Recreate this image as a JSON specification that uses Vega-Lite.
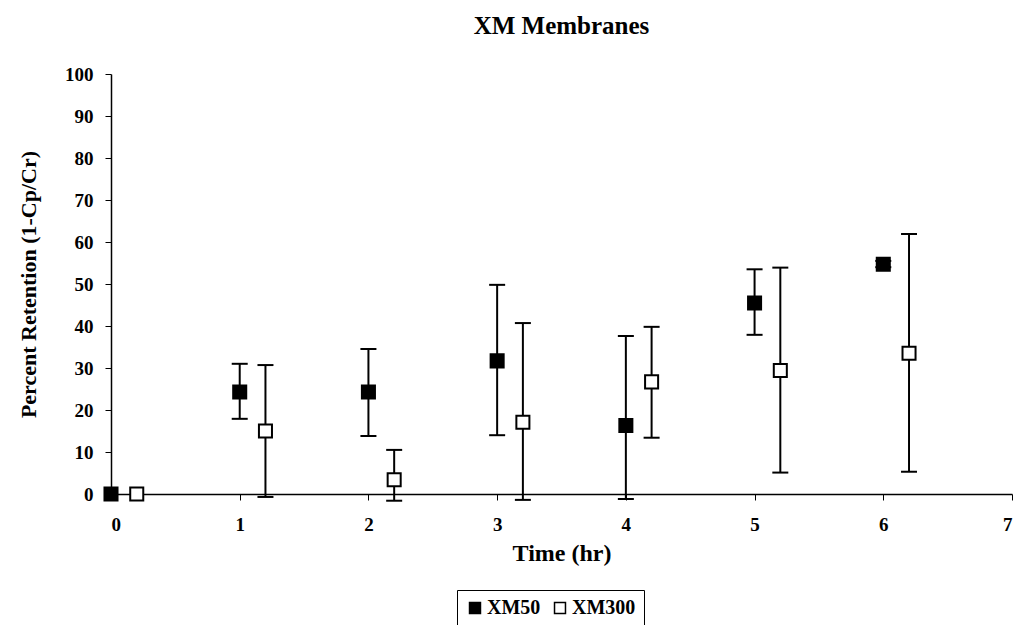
{
  "$schema": "https://vega.github.io/schema/vega-lite/v6.json",
  "width": 901,
  "height": 420,
  "autosize": {"type": "none"},
  "padding": {"left": 111, "top": 74, "right": 8, "bottom": 131},
  "background": "white",
  "title": {"text": "XM Membranes", "font": "Liberation Serif", "fontSize": 25, "fontWeight": "bold", "color": "black", "anchor": "middle", "offset": 26},
  "data": {"values": [
    {"series": "XM50", "t": 0, "v": 0, "lo": null, "hi": null},
    {"series": "XM50", "t": 1, "v": 24.3, "lo": 17.9, "hi": 31},
    {"series": "XM50", "t": 2, "v": 24.3, "lo": 13.8, "hi": 34.5},
    {"series": "XM50", "t": 3, "v": 31.7, "lo": 14, "hi": 49.8},
    {"series": "XM50", "t": 4, "v": 16.3, "lo": -1.2, "hi": 37.6},
    {"series": "XM50", "t": 5, "v": 45.5, "lo": 37.9, "hi": 53.5},
    {"series": "XM50", "t": 6, "v": 54.7, "lo": 54, "hi": 55.5},
    {"series": "XM300", "t": 0.2, "v": 0, "lo": null, "hi": null},
    {"series": "XM300", "t": 1.2, "v": 15, "lo": -0.7, "hi": 30.7},
    {"series": "XM300", "t": 2.2, "v": 3.4, "lo": -1.6, "hi": 10.5},
    {"series": "XM300", "t": 3.2, "v": 17.1, "lo": -1.4, "hi": 40.7},
    {"series": "XM300", "t": 4.2, "v": 26.7, "lo": 13.4, "hi": 39.8},
    {"series": "XM300", "t": 5.2, "v": 29.4, "lo": 5.1, "hi": 53.9},
    {"series": "XM300", "t": 6.2, "v": 33.5, "lo": 5.3, "hi": 61.9}
  ]},
  "encoding": {
    "x": {"field": "t", "type": "quantitative", "scale": {"domain": [0, 7], "nice": false, "zero": false},
      "axis": {"title": "Time (hr)", "values": [0, 1, 2, 3, 4, 5, 6, 7], "format": "d"}}
  },
  "layer": [
    {"mark": {"type": "rule", "color": "black", "strokeWidth": 2},
     "encoding": {
       "y": {"field": "lo", "type": "quantitative", "title": "Percent Retention (1-Cp/Cr)", "scale": {"domain": [0, 100], "nice": false, "zero": false},
         "axis": {"values": [0, 10, 20, 30, 40, 50, 60, 70, 80, 90, 100]}},
       "y2": {"field": "hi"}
     }},
    {"mark": {"type": "tick", "orient": "horizontal", "color": "black", "thickness": 2, "size": 16, "opacity": 1},
     "encoding": {"y": {"field": "hi", "type": "quantitative", "title": "Percent Retention (1-Cp/Cr)"}}},
    {"mark": {"type": "tick", "orient": "horizontal", "color": "black", "thickness": 2, "size": 16, "opacity": 1},
     "encoding": {"y": {"field": "lo", "type": "quantitative", "title": "Percent Retention (1-Cp/Cr)"}}},
    {"mark": {"type": "point", "shape": "square", "filled": true, "size": 170, "stroke": "black", "strokeWidth": 2, "opacity": 1},
     "encoding": {
       "y": {"field": "v", "type": "quantitative", "title": "Percent Retention (1-Cp/Cr)"},
       "fill": {"field": "series", "type": "nominal", "scale": {"domain": ["XM50", "XM300"], "range": ["black", "white"]},
         "legend": {"title": null, "orient": "none", "legendX": 346, "legendY": 516, "direction": "horizontal",
           "strokeColor": "black", "padding": 8, "symbolType": "square", "symbolSize": 120, "symbolStrokeColor": "black", "symbolStrokeWidth": 1.5,
           "labelFont": "Liberation Serif", "labelFontWeight": "bold", "labelFontSize": 20, "labelColor": "black", "columnPadding": 9, "labelOffset": 2}}
     }}
  ],
  "config": {
    "view": {"stroke": null},
    "axis": {"grid": false, "domainColor": "black", "domainWidth": 1.5, "tickColor": "black", "tickWidth": 1, "tickSize": 6,
      "labelFont": "Liberation Serif", "labelFontWeight": "bold", "labelFontSize": 19, "labelColor": "black",
      "titleFont": "Liberation Serif", "titleFontWeight": "bold", "titleFontSize": 22, "titleColor": "black"},
    "axisY": {"labelPadding": 12, "titlePadding": 24},
    "axisX": {"labelPadding": 15, "titlePadding": 7, "titleFontSize": 24}
  }
}
